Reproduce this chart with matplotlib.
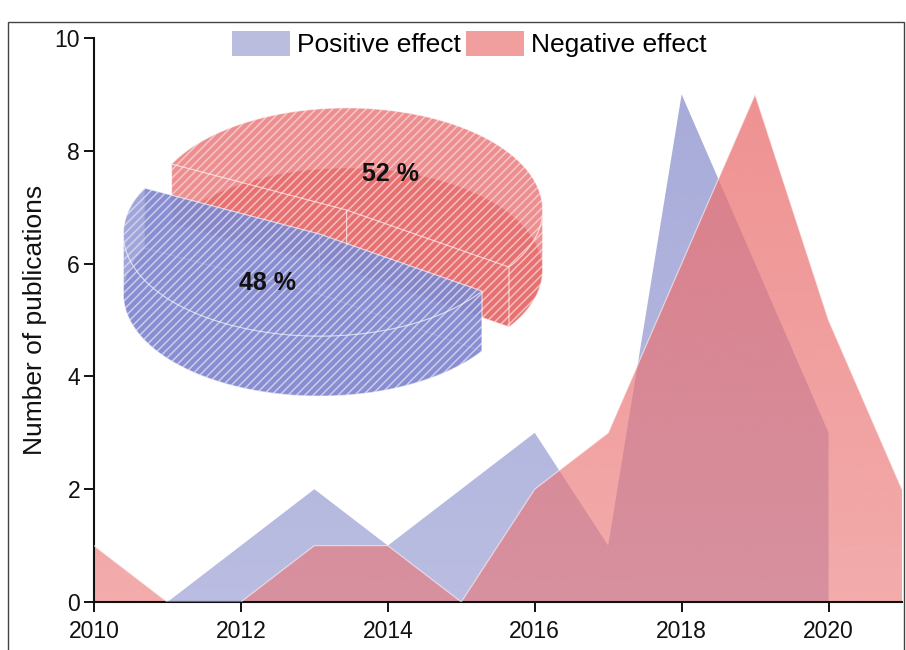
import numpy as np
import matplotlib
matplotlib.use('Agg')
import matplotlib.pyplot as plt
from matplotlib.patches import Polygon, Rectangle, Patch

plt.rcParams['font.family'] = ['Liberation Sans', 'DejaVu Sans']
plt.rcParams['hatch.linewidth'] = 1.1

# ------------------------------------------------------------------------
# data
years_pos = np.arange(2010, 2021)
positive = [0, 0, 1, 2, 1, 2, 3, 1, 9, 6, 3]
years_neg = np.arange(2010, 2022)
negative = [1, 0, 0, 1, 1, 0, 2, 3, 6, 9, 5, 2]
series_labels = ['Positive effect', 'Negative effect']

# share of publications per effect (positive, negative)
shares = [48, 52]
share_labels = ['48 %', '52 %']

blue = np.array([140, 145, 205]) / 255.
red = np.array([235, 115, 115]) / 255.

fig = plt.figure(figsize=(9.06, 6.5), dpi=100)
ax = fig.add_axes([94 / 906, 48 / 650, 808 / 906, 564 / 650])


def gradient_area(ax, x, y, color, a_lo, a_hi, z):
    # fill under the curve with a vertical alpha ramp, clipped to the area
    coll = ax.fill_between(x, y, 0, facecolor='none', edgecolor='none', zorder=z)
    img = np.zeros((256, 1, 4))
    img[..., :3] = color
    img[:, 0, 3] = np.linspace(a_lo, a_hi, 256)
    im = ax.imshow(img, extent=[2010, 2021, 0, 10], origin='lower',
                   aspect='auto', interpolation='bilinear', zorder=z)
    im.set_clip_path(coll.get_paths()[0], transform=ax.transData)
    return coll


gradient_area(ax, years_pos, positive, blue, 0.60, 0.78, 1)
gradient_area(ax, years_neg, negative, red, 0.60, 0.80, 2)
ax.plot(years_neg, negative, color='white', alpha=0.55, lw=0.9, zorder=3)

ax.set_xlim(2010, 2021)
ax.set_ylim(0, 10)
ax.set_xticks(range(2010, 2021, 2))
ax.set_yticks(range(0, 11, 2))
for s in ['top', 'right']:
    ax.spines[s].set_visible(False)
for s in ['left', 'bottom']:
    ax.spines[s].set_linewidth(1.5)
    ax.spines[s].set_color('#111111')
ax.tick_params(direction='out', length=7, width=1.4, labelsize=16.5,
               colors='#111111', pad=3)
ax.tick_params(axis='x', pad=6)
ax.set_ylabel('Number of publications', fontsize=19, color='#111111')
ax.yaxis.set_label_coords(-0.058, 0.5)

handles = [Patch(facecolor=(0.73, 0.74, 0.87)), Patch(facecolor=(0.94, 0.62, 0.62))]
fig.legend(handles, series_labels, loc='center', bbox_to_anchor=(0.518, 0.932),
           ncol=2, frameon=False, fontsize=19, handlelength=2.2,
           handleheight=1.06, handletextpad=0.27, columnspacing=0.2)

# ------------------------------------------------------------------------
# exploded 3D pie drawn in pixel space on an overlay axes
pax = fig.add_axes([0, 0, 1, 1], zorder=3)
pax.set_xlim(0, 906)
pax.set_ylim(650, 0)
pax.axis('off')

cx, cy = 333, 222
rx, ry, depth = 196, 102, 60
explode = 0.137
start = -34.0

pie_cols = [np.array([128, 135, 206]) / 255., np.array([230, 100, 102]) / 255.]
alpha_pie = [0.75, 0.72]


def rim(x0, y0, th):
    th = np.radians(th)
    return np.column_stack([x0 + rx * np.cos(th), y0 - ry * np.sin(th)])


def face(verts, i):
    p = Polygon(verts, closed=True, facecolor=(*pie_cols[i], alpha_pie[i]),
                edgecolor=(1, 1, 1, 0.5), lw=0.8, hatch='////')
    pax.add_patch(p)


# negative slice first (behind), then positive slice in front
t0 = start
slices = []
for i in [1, 0]:
    t1 = t0 + 360. * shares[i] / sum(shares)
    slices.append((i, t0, t1))
    t0 = t1

label_pos = {0: 0.52, 1: 0.44}
for i, t0, t1 in slices:
    mid = np.radians(0.5 * (t0 + t1))
    x0 = cx + explode * rx * np.cos(mid)
    y0 = cy - explode * ry * np.sin(mid)
    th = np.linspace(t0, t1, 200)

    # bottom face
    face(np.vstack([[x0, y0 + depth], rim(x0, y0 + depth, th)]), i)

    # both cut faces
    for t in (t0, t1):
        e = rim(x0, y0, [t])[0]
        face([[x0, y0], e, e + [0, depth], [x0, y0 + depth]], i)

    # outer wall, front half only
    for lo, hi in [(-180, 0), (180, 360), (540, 720)]:
        a, b = max(t0, lo), min(t1, hi)
        if b > a:
            tw = np.linspace(a, b, 120)
            top = rim(x0, y0, tw)
            face(np.vstack([top, (top + [0, depth])[::-1]]), i)

    # top face
    face(np.vstack([[x0, y0], rim(x0, y0, th)]), i)

    lx, ly = rim(x0, y0, [np.degrees(mid)])[0]
    f = label_pos[i]
    pax.text(x0 + f * (lx - x0), y0 + f * (ly - y0) + 3, share_labels[i],
             fontsize=18, fontweight='bold', ha='center', va='center',
             color='#111111')

# thin frame around the figure
fig.add_artist(Rectangle((8 / 906, -0.05), 896 / 906, 0.9662 + 0.05,
                         transform=fig.transFigure, fill=False,
                         edgecolor='#444444', lw=1.0))

fig.savefig('out.png', dpi=100)
